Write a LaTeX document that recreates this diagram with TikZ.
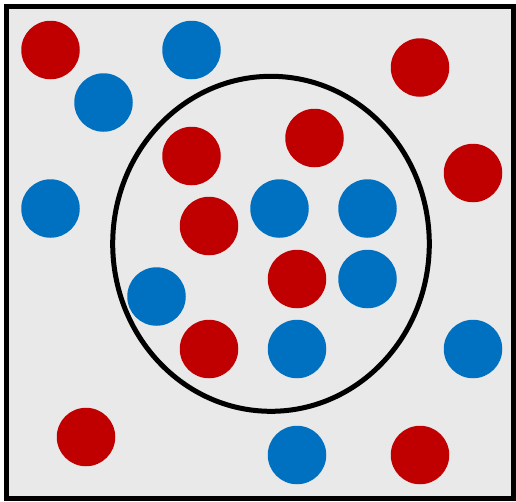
\documentclass[tikz,border=0pt]{standalone}
\usetikzlibrary{positioning,shapes.geometric}
\definecolor{dotred}{HTML}{C00000}
\definecolor{dotblue}{HTML}{0070C0}
\definecolor{panel}{HTML}{E9E9E9}

\begin{document}
\begin{tikzpicture}[
  x=1pt, y=-1pt,
  frame/.style={draw=black, line width=5pt, fill=panel},
  ring/.style={draw=black, line width=5pt},
  dot/.style={circle, minimum size=58.5pt, inner sep=0pt, draw=none},
  reddot/.style={dot, fill=dotred},
  bluedot/.style={dot, fill=dotblue}
]
\useasboundingbox (0,0) rectangle (516,501);

% panel and neighbourhood
\node[frame, minimum width=506.5pt, minimum height=492.5pt, inner sep=0pt] (panel) at (259.75,252.25) {};
\node[ring, ellipse, minimum width=316.6pt, minimum height=335pt, inner sep=0pt] (hood) at (271,243.8) {};

% red points
\node[reddot] (r1) at (50.5,50) {};
\node[reddot] (r2) at (420,67.5) {};
\node[reddot] (r3) at (314.5,138) {};
\node[reddot] (r4) at (191.5,156) {};
\node[reddot] (r5) at (473,173) {};
\node[reddot] (r6) at (209,226) {};
\node[reddot] (r7) at (297,279) {};
\node[reddot] (r8) at (209,349) {};
\node[reddot] (r9) at (86,437) {};
\node[reddot] (r10) at (420,455) {};

% blue points
\node[bluedot] (b1) at (191.5,50) {};
\node[bluedot] (b2) at (103.5,102.5) {};
\node[bluedot] (b3) at (50.5,208.5) {};
\node[bluedot] (b4) at (279.5,208.5) {};
\node[bluedot] (b5) at (367.5,208.5) {};
\node[bluedot] (b6) at (367.5,279) {};
\node[bluedot] (b7) at (156.5,296.5) {};
\node[bluedot] (b8) at (297,349) {};
\node[bluedot] (b9) at (473,349) {};
\node[bluedot] (b10) at (297,455) {};

\end{tikzpicture}
\end{document}
